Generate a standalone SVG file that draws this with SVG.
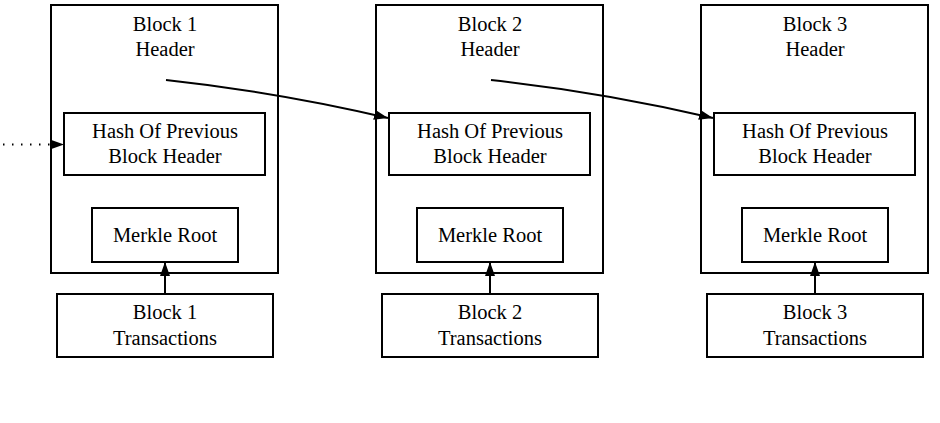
<svg xmlns="http://www.w3.org/2000/svg" width="940" height="423" viewBox="0 0 940 423">
<style>
.box{fill:none;stroke:#000;stroke-width:2}
.edge{fill:none;stroke:#000;stroke-width:2}
.t{font-family:'Liberation Serif','Times New Roman','DejaVu Serif',serif;font-size:20.5px;fill:#000;text-anchor:middle}
</style>
<defs>
<marker id="ah" markerUnits="userSpaceOnUse" markerWidth="14" markerHeight="10" refX="14" refY="5" orient="auto">
<path d="M0,0 L14,5 L0,10 z" fill="#000"/>
</marker>
</defs>
<rect width="940" height="423" fill="#fff"/>
<g id="block1">
<rect class="box" x="51" y="5" width="227" height="268"/>
<text class="t" x="165" y="31">Block 1</text>
<text class="t" x="165" y="56">Header</text>
</g>
<g id="hash1">
<rect class="box" x="64" y="113" width="201" height="62"/>
<text class="t" x="165" y="138">Hash Of Previous</text>
<text class="t" x="165" y="163">Block Header</text>
</g>
<g id="merkle1">
<rect class="box" x="92" y="208" width="146" height="54"/>
<text class="t" x="165" y="242">Merkle Root</text>
</g>
<g id="tx1">
<rect class="box" x="57" y="294" width="216" height="63"/>
<text class="t" x="165" y="319">Block 1</text>
<text class="t" x="165" y="345">Transactions</text>
</g>
<g id="block2">
<rect class="box" x="376" y="5" width="227" height="268"/>
<text class="t" x="490" y="31">Block 2</text>
<text class="t" x="490" y="56">Header</text>
</g>
<g id="hash2">
<rect class="box" x="389" y="113" width="201" height="62"/>
<text class="t" x="490" y="138">Hash Of Previous</text>
<text class="t" x="490" y="163">Block Header</text>
</g>
<g id="merkle2">
<rect class="box" x="417" y="208" width="146" height="54"/>
<text class="t" x="490" y="242">Merkle Root</text>
</g>
<g id="tx2">
<rect class="box" x="382" y="294" width="216" height="63"/>
<text class="t" x="490" y="319">Block 2</text>
<text class="t" x="490" y="345">Transactions</text>
</g>
<g id="block3">
<rect class="box" x="701" y="5" width="227" height="268"/>
<text class="t" x="815" y="31">Block 3</text>
<text class="t" x="815" y="56">Header</text>
</g>
<g id="hash3">
<rect class="box" x="714" y="113" width="201" height="62"/>
<text class="t" x="815" y="138">Hash Of Previous</text>
<text class="t" x="815" y="163">Block Header</text>
</g>
<g id="merkle3">
<rect class="box" x="742" y="208" width="146" height="54"/>
<text class="t" x="815" y="242">Merkle Root</text>
</g>
<g id="tx3">
<rect class="box" x="707" y="294" width="216" height="63"/>
<text class="t" x="815" y="319">Block 3</text>
<text class="t" x="815" y="345">Transactions</text>
</g>
<g id="connectors">
<path class="edge" d="M3,144.5 L64,144.5" stroke-dasharray="1.5 7.5" marker-end="url(#ah)"/>
<path class="edge" d="M166,80 C240,88 320,102 388,118" marker-end="url(#ah)"/>
<path class="edge" d="M491,80 C565,88 645,102 713,118" marker-end="url(#ah)"/>
<path class="edge" d="M165,294 L165,262" marker-end="url(#ah)"/>
<path class="edge" d="M490,294 L490,262" marker-end="url(#ah)"/>
<path class="edge" d="M815,294 L815,262" marker-end="url(#ah)"/>
</g>
</svg>
